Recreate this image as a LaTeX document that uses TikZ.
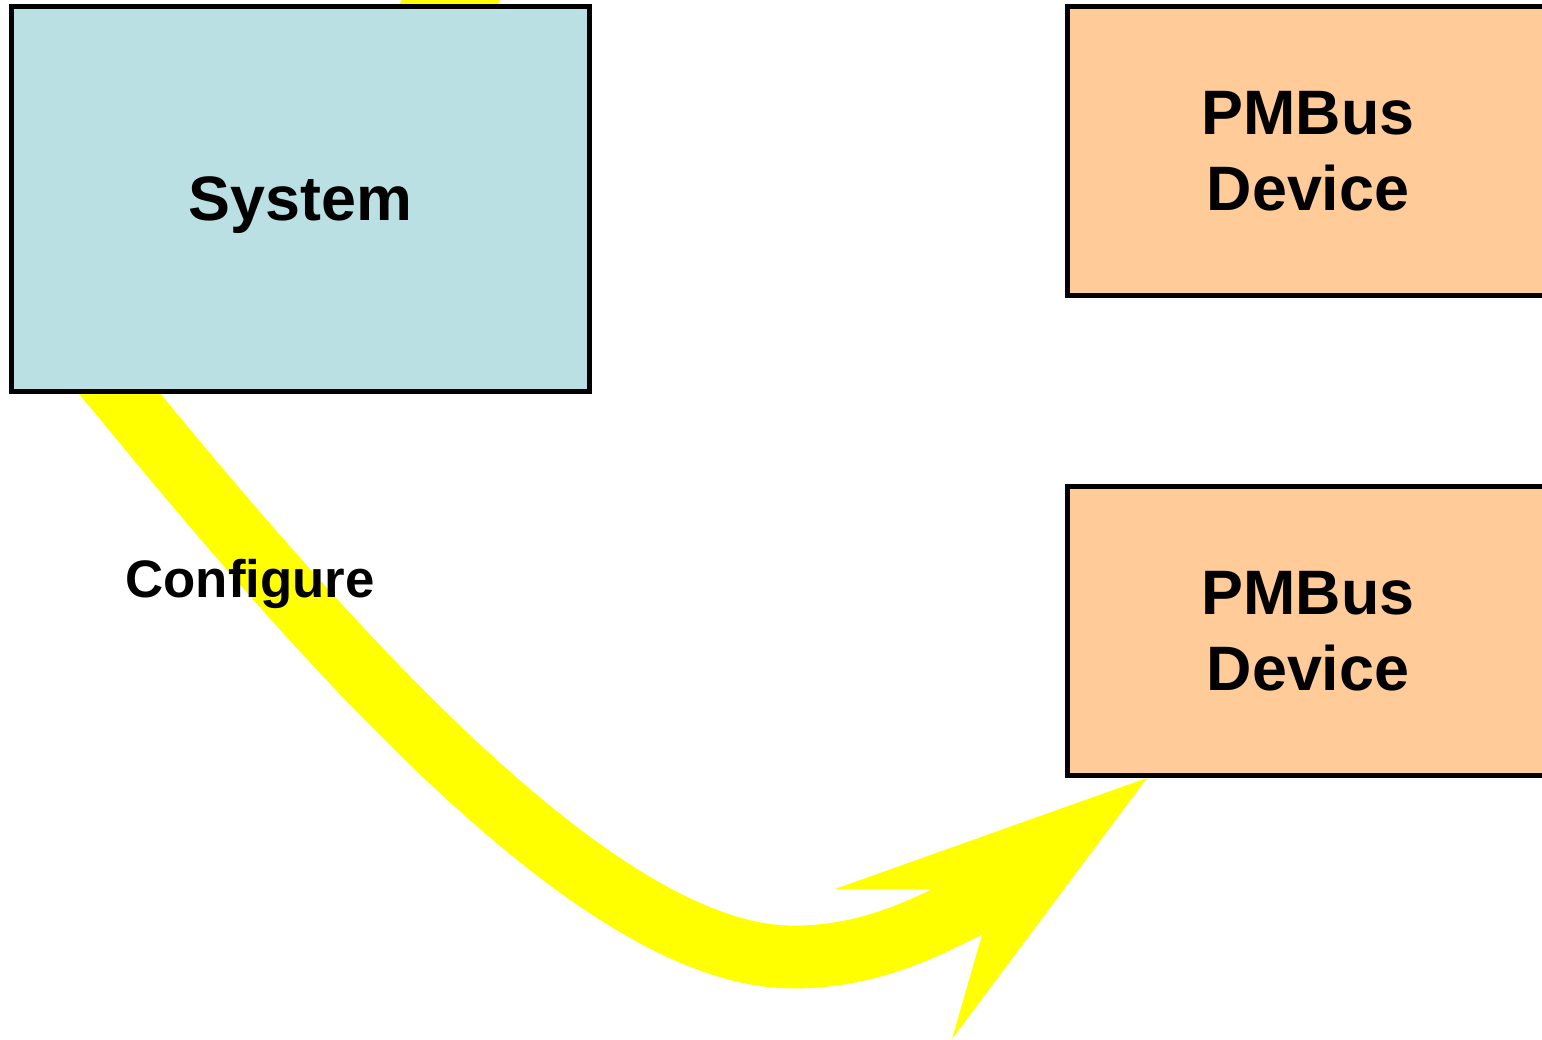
\documentclass[tikz,border=0pt]{standalone}
\usepackage{fontspec}
\setmainfont{Liberation Sans}
\definecolor{sysblue}{RGB}{186,224,227}
\definecolor{devorange}{RGB}{255,204,153}
\definecolor{arrowyellow}{RGB}{255,255,0}
\begin{document}
\begin{tikzpicture}[x=0.01cm,y=-0.01cm,
  box/.style={draw=black, line width=1.42pt, inner sep=0pt,
    font=\fontsize{17.86}{21.5}\selectfont\bfseries, align=center},
  sysbox/.style={box, fill=sysblue, minimum width=5.77cm, minimum height=3.84cm, text depth=0pt},
  devbox/.style={box, fill=devorange, minimum width=4.8cm, minimum height=2.88cm},
  band/.style={draw=arrowyellow, line width=17.86pt},
  head/.style={fill=arrowyellow},
  lbl/.style={font=\fontsize{15}{18}\selectfont\bfseries, inner sep=0pt}
]
\useasboundingbox (0,0) rectangle (1542,1039);
\clip (0,0) rectangle (1542,1039);

% named points of the yellow arrow
\coordinate (bandin)  at (98,368);
\coordinate (bandtop) at (120,394);
\coordinate (bandlow) at (793,957);
\coordinate (bandend) at (975,903);
\coordinate (barbL)   at (835,889);
\coordinate (notchU)  at (930,889);
\coordinate (tip)     at (1147,778);
\coordinate (barbB)   at (952,1039);
\coordinate (notchL)  at (982,935);

% piece of another arrow entering at the top
\fill[head] (403,-5) -- (503,-5) -- (494,12) -- (397,12) -- cycle;

% arrow band
\draw[band] (bandin) -- (bandtop) .. controls (330,650) and (600,957) .. (bandlow)
  .. controls (870,957) and (925,928) .. (bandend);

% boxes
\node[sysbox] (system) at (300.5,199) {System};
\node[devbox] (dev1) at (1308,151) {PMBus\\Device};
\node[devbox] (dev2) at (1308,631) {PMBus\\Device};

% arrow head
\fill[head] (barbL) -- (tip) -- (barbB) -- (notchL) -- (notchU) -- cycle;

% label
\node[lbl, anchor=base] (config) at (250,597) {Configure};
\end{tikzpicture}
\end{document}
